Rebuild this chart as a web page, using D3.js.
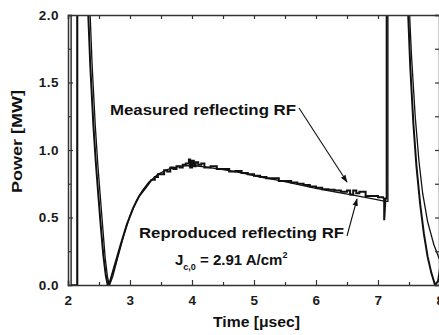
<!DOCTYPE html>
<html lang="en">
<head>
<meta charset="utf-8">
<title>Reflecting RF</title>
<style>
  body { margin: 0; background: #fff; }
  svg { display: block; font-family: "Liberation Sans", Arial, sans-serif; }
  .tick text { font-weight: bold; font-size: 13.5px; fill: #1a1a1a; letter-spacing: 0.5px; }
  .lbl { font-weight: bold; fill: #111; }
</style>
<script src="https://d3js.org/d3.v7.min.js"></script>
</head>
<body>
<script>
  let width = 439
  let height = 335
  let padL = 68, padR = 440, padT = 15, padB = 285

  let xTicks = [2, 3, 4, 5, 6, 7, 8]
  let yTicks = [0.0, 0.5, 1.0, 1.5, 2.0]

  // measured trace, steep parts (null breaks the line)
  let measuredT = [2.15, 2.15, null,
    2.31, 2.36, 2.41, 2.45, 2.49, 2.53, 2.57, 2.61, 2.64,
    2.68, 2.75, 2.85, 2.95, 3.05, 3.15, 3.25, 3.35, null,
    7.08, 7.10, 7.10, 7.12, 7.14, 7.14, null,
    7.47, 7.52, 7.57, 7.62, 7.68, 7.74, 7.80, 7.86, 7.92, 7.97, 8.00]
  let measuredP = [0, 2.2, null,
    2.2, 1.62, 1.18, 0.9, 0.66, 0.43, 0.22, 0.07, 0.0,
    0.03, 0.14, 0.30, 0.45, 0.57, 0.66, 0.72, 0.78, null,
    0.64, 0.64, 0.48, 0.64, 0.64, 2.2, null,
    2.2, 1.62, 1.2, 0.88, 0.6, 0.38, 0.21, 0.09, 0.0, 0.03, 0.12]

  // measured trace, digitised plateau (drawn as steps)
  let plateauT = [3.35, 3.40, 3.45, 3.50,
    3.55, 3.60, 3.65, 3.70, 3.75, 3.80, 3.85, 3.90, 3.95, 3.97, 4.00, 4.03, 4.06, 4.10,
    4.15, 4.20, 4.30, 4.40, 4.50, 4.60, 4.70, 4.80, 4.90, 5.00, 5.10, 5.20, 5.30, 5.40,
    5.50, 5.60, 5.70, 5.80, 5.90, 6.00, 6.10, 6.20, 6.30, 6.40, 6.50, 6.55, 6.60, 6.65,
    6.70, 6.80, 6.90, 7.00, 7.08]
  let plateauP = [0.78, 0.80, 0.82, 0.82,
    0.85, 0.84, 0.87, 0.86, 0.88, 0.87, 0.89, 0.90, 0.93, 0.87, 0.92, 0.88, 0.91, 0.89,
    0.90, 0.87, 0.88, 0.86, 0.86, 0.84, 0.845, 0.83, 0.82, 0.81, 0.80, 0.79, 0.79, 0.77,
    0.77, 0.76, 0.75, 0.74, 0.73, 0.72, 0.71, 0.705, 0.70, 0.69, 0.70, 0.67, 0.70, 0.68,
    0.69, 0.66, 0.66, 0.65, 0.64]

  // reproduced trace (thin, smooth)
  let reproT = [2.05, 2.05, 2.15, 2.15, null,
    2.34, 2.39, 2.44, 2.48, 2.52, 2.56, 2.60, 2.64, 2.67,
    2.72, 2.80, 2.90, 3.00, 3.10, 3.20, 3.30, 3.45, 3.60, 3.80, 4.00, 4.20, 4.50,
    4.80, 5.10, 5.40, 5.70, 6.00, 6.30, 6.60, 6.90, 7.12, 7.16, 7.16, null,
    7.49, 7.54, 7.60, 7.66, 7.72, 7.80, 7.90, 8.00]
  let reproP = [2.2, 0, 0, 2.2, null,
    2.2, 1.62, 1.18, 0.9, 0.66, 0.43, 0.2, 0.05, 0.0,
    0.06, 0.20, 0.37, 0.51, 0.62, 0.70, 0.76, 0.82, 0.855, 0.88, 0.885, 0.875, 0.855,
    0.83, 0.80, 0.775, 0.745, 0.715, 0.69, 0.665, 0.64, 0.62, 0.62, 2.2, null,
    2.2, 1.7, 1.25, 0.92, 0.68, 0.47, 0.30, 0.18]

  let svg = d3.select("body").append("svg")
    .attr("width", width)
    .attr("height", height)

  let xScale = d3.scaleLinear().domain([2, 8]).range([padL, padR])
  let yScale = d3.scaleLinear().domain([0, 2]).range([padB, padT])

  let toPts = (ts, ps) => ts.map((t, i) => t === null ? null : [t, ps[i]])

  svg.append("clipPath").attr("id", "plot")
    .append("rect")
    .attr("x", padL).attr("y", padT)
    .attr("width", padR - padL).attr("height", padB - padT)

  let line = d3.line()
    .defined(d => d !== null)
    .x(d => xScale(d[0]))
    .y(d => yScale(d[1]))

  let g = svg.append("g").attr("clip-path", "url(#plot)")

  g.append("path")
    .datum(toPts(reproT, reproP))
    .attr("d", line)
    .attr("fill", "none")
    .attr("stroke", "#111")
    .attr("stroke-width", 1.3)

  g.append("path")
    .datum(toPts(measuredT, measuredP))
    .attr("d", line)
    .attr("fill", "none")
    .attr("stroke", "#111")
    .attr("stroke-width", 2)

  g.append("path")
    .datum(toPts(plateauT, plateauP))
    .attr("d", line.curve(d3.curveStepAfter))
    .attr("fill", "none")
    .attr("stroke", "#111")
    .attr("stroke-width", 2)

  // axes, ticks pointing inward
  let minorX = d3.range(2, 8.01, 0.5)
  let minorY = d3.range(0, 2.01, 0.25)

  let xAxis = d3.axisBottom(xScale).tickValues(minorX)
    .tickSize(-4).tickPadding(10)
    .tickFormat(d => xTicks.includes(d) ? d : "")
  let yAxis = d3.axisLeft(yScale).tickValues(minorY)
    .tickSize(-4).tickPadding(9)
    .tickFormat(d => yTicks.includes(d) ? d3.format(".1f")(d) : "")

  let gx = svg.append("g").attr("transform", `translate(0,${padB})`).call(xAxis)
  let gy = svg.append("g").attr("transform", `translate(${padL},0)`).call(yAxis)
  svg.append("g").attr("transform", `translate(0,${padT})`)
    .call(d3.axisTop(xScale).tickValues(minorX).tickSize(-4).tickFormat(""))
  svg.append("g").attr("transform", `translate(${padR - 1},0)`)
    .call(d3.axisRight(yScale).tickValues(minorY).tickSize(-4).tickFormat(""))

  svg.selectAll(".domain").attr("stroke", "#333").attr("stroke-width", 1.5)
  svg.selectAll(".tick line").attr("stroke", "#333").attr("stroke-width", 1.2)
  gx.selectAll(".tick line").attr("y2", d => xTicks.includes(d) ? -5 : -3)
  gy.selectAll(".tick line").attr("x2", d => yTicks.includes(d) ? 5 : 3)

  svg.append("text").attr("class", "lbl")
    .attr("transform", "translate(22,141.5) rotate(-90)")
    .attr("text-anchor", "middle")
    .attr("font-size", 15)
    .attr("textLength", 103).attr("lengthAdjust", "spacingAndGlyphs")
    .text("Power [MW]")

  svg.append("text").attr("class", "lbl")
    .attr("x", 256.5).attr("y", 327)
    .attr("text-anchor", "middle")
    .attr("font-size", 15)
    .attr("textLength", 87).attr("lengthAdjust", "spacingAndGlyphs")
    .text("Time [\u03bcsec]")

  // annotations
  let defs = svg.append("defs")
  defs.append("marker").attr("id", "arr")
    .attr("viewBox", "0 0 10 10").attr("refX", 9).attr("refY", 5)
    .attr("markerWidth", 7).attr("markerHeight", 7)
    .attr("orient", "auto")
    .append("path").attr("d", "M0,1.5 L10,5 L0,8.5 Z").attr("fill", "#111")

  svg.append("text").attr("class", "lbl")
    .attr("x", 110).attr("y", 115).attr("font-size", 15)
    .attr("textLength", 186).attr("lengthAdjust", "spacingAndGlyphs")
    .text("Measured reflecting RF")
  svg.append("line")
    .attr("x1", 299).attr("y1", 108).attr("x2", 347).attr("y2", 182)
    .attr("stroke", "#111").attr("stroke-width", 1.1).attr("marker-end", "url(#arr)")

  svg.append("text").attr("class", "lbl")
    .attr("x", 139).attr("y", 238).attr("font-size", 15)
    .attr("textLength", 205).attr("lengthAdjust", "spacingAndGlyphs")
    .text("Reproduced reflecting RF")
  svg.append("line")
    .attr("x1", 347).attr("y1", 236).attr("x2", 357).attr("y2", 199)
    .attr("stroke", "#111").attr("stroke-width", 1.1).attr("marker-end", "url(#arr)")

  let jt = svg.append("text").attr("class", "lbl")
    .attr("x", 175).attr("y", 265).attr("font-size", 15)
  jt.append("tspan").text("J")
  jt.append("tspan").attr("font-size", 9).attr("dy", 5).text("c,0")
  jt.append("tspan").attr("dy", -5).text(" = 2.91 A/cm")
  jt.append("tspan").attr("font-size", 9).attr("dy", -7).text("2")
</script>
</body>
</html>
